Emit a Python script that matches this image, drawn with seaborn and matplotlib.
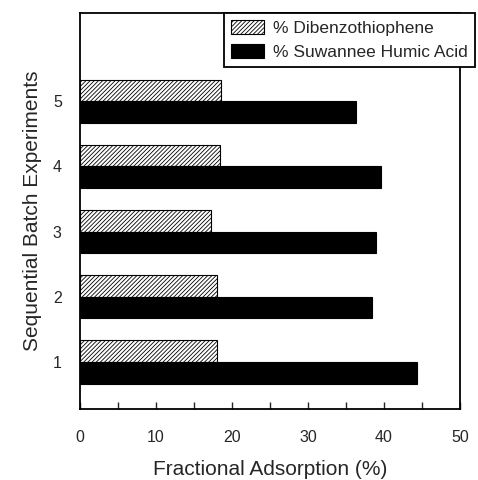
import matplotlib
matplotlib.use("Agg")
from matplotlib import pyplot as plt
import seaborn as sns
import pandas as pd

experiments = [5, 4, 3, 2, 1]
dbt_values = [18.6, 18.4, 17.2, 18.1, 18.0]
sha_values = [36.3, 39.6, 39.0, 38.5, 44.4]
series_names = ["% Dibenzothiophene", "% Suwannee Humic Acid"]

df = pd.DataFrame({
    "experiment": experiments * 2,
    "adsorption": dbt_values + sha_values,
    "series": [series_names[0]] * 5 + [series_names[1]] * 5,
})

sns.set_style("ticks")
plt.rcParams["font.family"] = ["Liberation Sans", "DejaVu Sans"]
plt.rcParams["hatch.linewidth"] = 0.6

fig = plt.figure(figsize=(4.78, 4.80), dpi=100)
ax = fig.add_axes([0.167, 0.148, 0.795, 0.825])

sns.barplot(data=df, x="adsorption", y="experiment", hue="series",
            order=experiments, hue_order=series_names, orient="h",
            palette=["white", "black"], width=0.66, dodge=True,
            edgecolor="black", linewidth=0.8, errorbar=None, ax=ax)

for bar in ax.containers[0]:
    bar.set_hatch("////////")

ax.set_xlim(0, 50)
ax.set_ylim(4.72, -1.35)
ax.set_xticks([0, 10, 20, 30, 40, 50])
ax.set_xticks([5, 15, 25, 35, 45], minor=True)
ax.tick_params(axis="x", direction="in", length=5, width=1, labelsize=11.5, pad=15)
ax.tick_params(axis="x", which="minor", direction="in", length=5, width=1)
ax.tick_params(axis="y", length=0, labelsize=11.5, pad=13)
for side in ax.spines.values():
    side.set_linewidth(1.3)
    side.set_color("black")

ax.set_xlabel("Fractional Adsorption (%)", fontsize=15, labelpad=11)
ax.set_ylabel("Sequential Batch Experiments", fontsize=15, labelpad=8)

leg = ax.legend(loc="upper right", bbox_to_anchor=(1.04, 1.0), borderaxespad=0,
                fontsize=12.5, frameon=True, fancybox=False, framealpha=1,
                handlelength=1.9, handleheight=0.9, labelspacing=0.45,
                borderpad=0.4, handletextpad=0.55)
leg.get_frame().set_edgecolor("black")
leg.get_frame().set_linewidth(1.3)
leg.legend_handles[0].set_hatch("////////")

fig.savefig("out.png", dpi=100)
